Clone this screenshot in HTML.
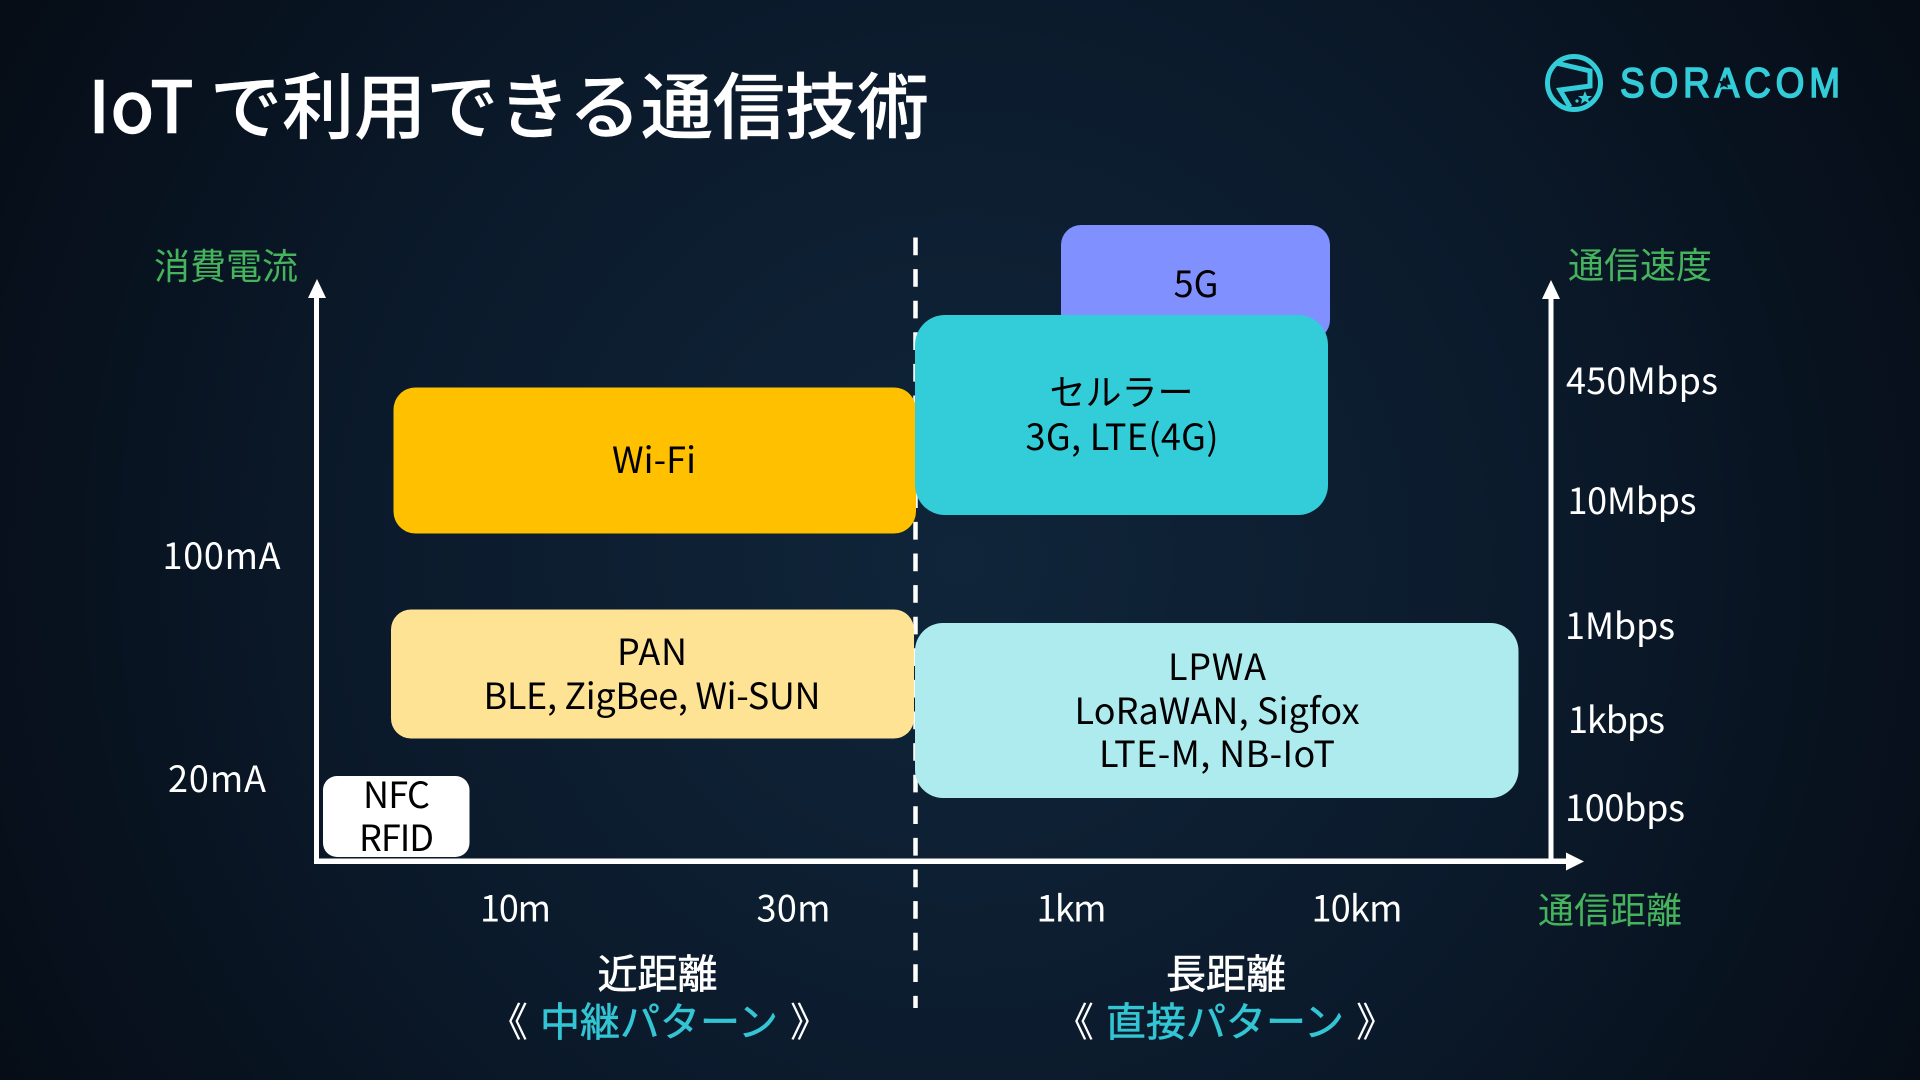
<!DOCTYPE html>
<html lang="ja"><head><meta charset="utf-8"><title>IoT で利用できる通信技術</title>
<style>
html,body{margin:0;padding:0;width:1920px;height:1080px;overflow:hidden;background:#0a1524}
svg{display:block}
text{font-family:"Noto Sans CJK JP","Liberation Sans",sans-serif;font-size:36px;fill:#fff}
.c{text-anchor:middle}
.k{fill:#000}
.g{fill:#45b45c}
.t{fill:#33c5d3;stroke:#33c5d3;stroke-width:.6px}
.b{font-size:40px;word-spacing:3px}
.h{stroke:#fff;stroke-width:.6px}
</style></head><body>
<svg width="1920" height="1080" viewBox="0 0 1920 1080" xmlns="http://www.w3.org/2000/svg">
<defs>
<radialGradient id="bg" gradientUnits="userSpaceOnUse" cx="960" cy="560" r="1080">
<stop offset="0" stop-color="#10253a"/><stop offset="0.55" stop-color="#0b1a2b"/><stop offset="1" stop-color="#060d17"/>
</radialGradient>
</defs>
<rect width="1920" height="1080" fill="url(#bg)"/>

<text x="88" y="133" textLength="841" style="font-size:72px;font-weight:500;stroke:#fff;stroke-width:.4px">IoT で利用できる通信技術</text>

<!-- logo -->
<g fill="none" stroke="#33ccd9" stroke-width="5">
<circle cx="1574" cy="83" r="26.5"/>
<path d="M1556,63 L1590,71 L1590,86 L1560,90 L1570,107" stroke-linejoin="miter"/>
</g>
<polygon points="1585,91 1587,96 1592,96 1588,99 1590,104 1585,101 1581,104 1582,99 1578,96 1583,96" fill="#33ccd9"/>
<circle cx="1577" cy="101" r="1.6" fill="#33ccd9"/>
<text transform="translate(1620,97) scale(.88,1)" x="0" y="0" textLength="250" lengthAdjust="spacing" style="font-family:'Liberation Sans',sans-serif;font-size:42px;fill:#33ccd9;stroke:#33ccd9;stroke-width:1.6px">SORACOM</text>
<polygon points="1724,77 1726,81 1730,81 1727,84 1728,88 1724,86 1720,88 1721,84 1718,81 1722,81" fill="#0a1524"/>

<!-- dashed line -->
<line x1="915.5" y1="237.5" x2="915.5" y2="1008" stroke="#fff" stroke-width="4.5" stroke-dasharray="17.7 13.9"/>

<!-- axes -->
<g fill="#fff">
<rect x="314" y="296" width="5" height="567"/>
<polygon points="317,279 326,298 308,298"/>
<rect x="1548.5" y="296" width="5" height="567"/>
<polygon points="1551,280 1560,299 1542,299"/>
<rect x="314" y="858.5" width="1256" height="5.5"/>
<polygon points="1584,861.5 1566,852.5 1566,870.5"/>
</g>

<!-- boxes -->
<rect x="1061" y="225" width="269" height="115" rx="20" fill="#8190ff"/>
<rect x="393.5" y="387.5" width="522.5" height="146" rx="22" fill="#ffc000"/>
<rect x="915" y="315" width="413" height="200" rx="30" fill="#33ccd9"/>
<rect x="391" y="609.5" width="523" height="129" rx="20" fill="#ffe395"/>
<rect x="915" y="623" width="603.5" height="175" rx="28" fill="#adebee"/>
<rect x="323" y="776" width="146.5" height="81" rx="14" fill="#fff"/>

<!-- box labels -->
<text class="c k" x="1196" y="297">5G</text>
<text class="c k" x="1121.5" y="405">セルラー</text>
<text class="c k" x="1122" y="450" textLength="193">3G, LTE(4G)</text>
<text class="c k" x="654" y="473" textLength="84">Wi-Fi</text>
<text class="c k" x="652" y="665" textLength="70">PAN</text>
<text class="c k" x="652" y="709" textLength="337">BLE, ZigBee, Wi-SUN</text>
<text class="c k" x="1217" y="680" textLength="98">LPWA</text>
<text class="c k" x="1217" y="724" textLength="285">LoRaWAN, Sigfox</text>
<text class="c k" x="1217" y="767" textLength="236">LTE-M, NB-IoT</text>
<text class="c k" x="396.5" y="808" textLength="67">NFC</text>
<text class="c k" x="396.5" y="851" textLength="75">RFID</text>

<!-- axis labels -->
<text class="c g" x="226" y="279">消費電流</text>
<text class="c g" x="1640" y="278">通信速度</text>
<text class="c g" x="1610" y="923">通信距離</text>

<text class="c" x="221.5" y="569" textLength="118">100mA</text>
<text class="c" x="217" y="792" textLength="98">20mA</text>

<text x="1566" y="394" textLength="152">450Mbps</text>
<text x="1567.5" y="514" textLength="129">10Mbps</text>
<text x="1565" y="639" textLength="110">1Mbps</text>
<text x="1568" y="733" textLength="97">1kbps</text>
<text x="1565" y="821" textLength="120">100bps</text>

<text class="c" x="515.5" y="921.5" textLength="71">10m</text>
<text class="c" x="793.5" y="921.5" textLength="74">30m</text>
<text class="c" x="1071.5" y="921.5" textLength="70">1km</text>
<text class="c" x="1357" y="921.5" textLength="91">10km</text>

<text class="c b h" x="657.5" y="988">近距離</text>
<text class="c b h" x="1226" y="988">長距離</text>
<text class="c b" x="659" y="1036">《 <tspan class="t">中継パターン</tspan> 》</text>
<text class="c b" x="1225" y="1036">《 <tspan class="t">直接パターン</tspan> 》</text>
</svg>
</body></html>
